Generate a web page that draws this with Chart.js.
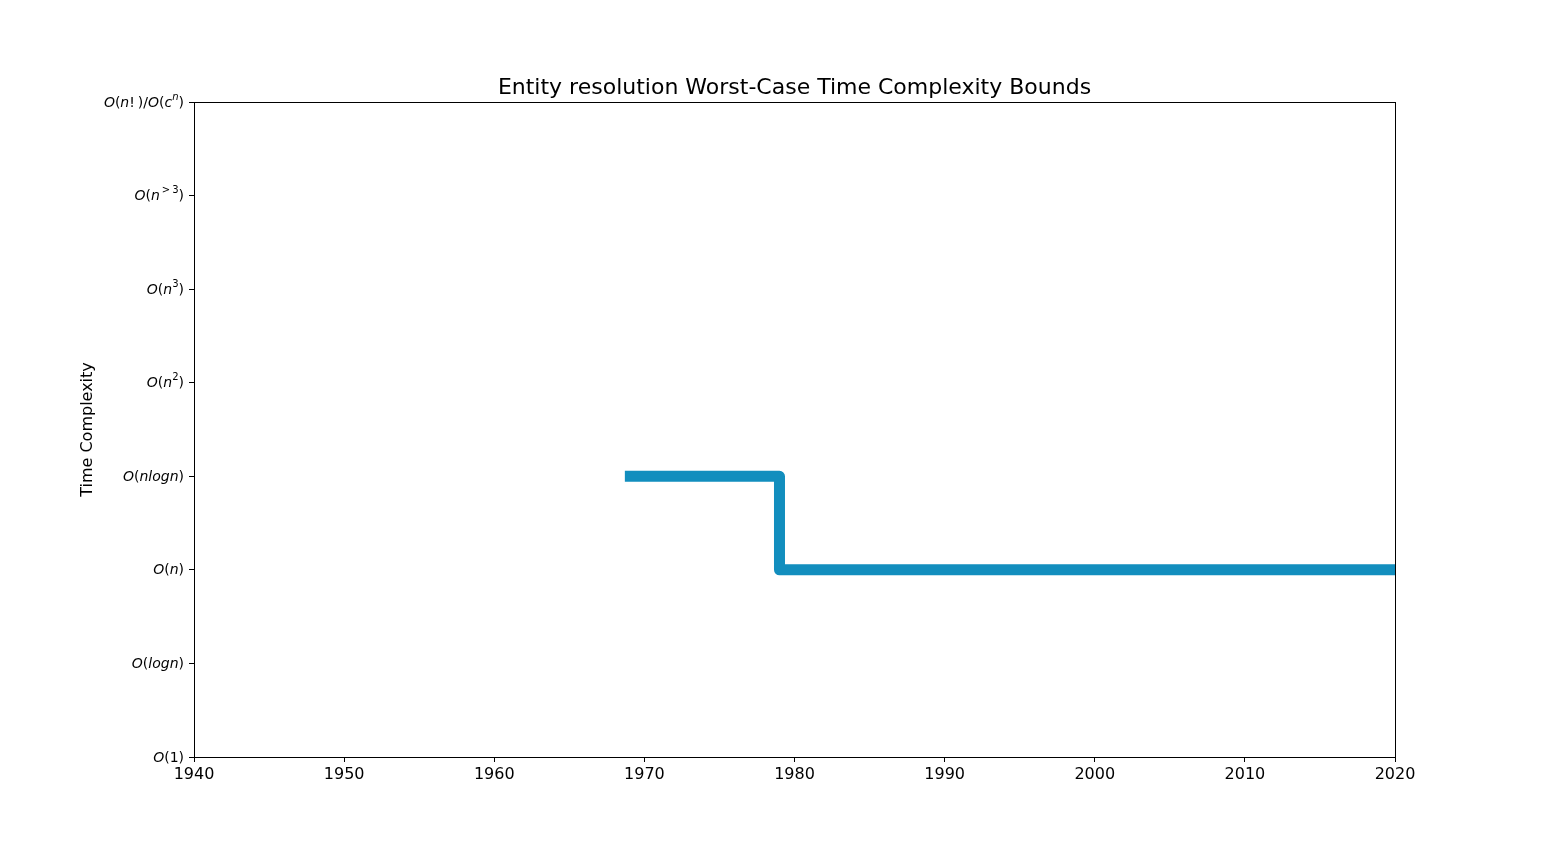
<!DOCTYPE html>
<html>
<head>
<meta charset="utf-8">
<script src="https://cdn.jsdelivr.net/npm/chart.js@4/dist/chart.umd.min.js"></script>
<style>
  body { margin: 0; background: #fff; }
  #chart { display: block; }
</style>
</head>
<body>
<canvas id="chart" width="1550" height="850"></canvas>
<script>
// data
const years = [1968.7, 1979, 2020];
const complexity = [3, 2, 2];
const complexityLabels = ['O(1)', 'O(logn)', 'O(n)', 'O(nlogn)', 'O(n^2)', 'O(n^3)', 'O(n^{>3})', 'O(n!)/O(c^n)'];
const xMin = 1940, xMax = 2020, xStep = 10;

const chartTitle = 'Entity resolution Worst-Case Time Complexity Bounds';
const yTitle = 'Time Complexity';
const FONT = '"DejaVu Sans", sans-serif';

// split "O(n^{>3})" into pieces: letters italic, superscripts smaller and raised
function parseLabel(s) {
    const parts = [];
    let i = 0;
    while (i < s.length) {
        let sup = false, chunk;
        if (s[i] === '^') {
            sup = true;
            i++;
            if (s[i] === '{') {
                const j = s.indexOf('}', i);
                chunk = s.slice(i + 1, j);
                i = j + 1;
            } else {
                chunk = s[i];
                i++;
            }
        } else {
            chunk = s[i];
            i++;
        }
        for (const ch of chunk) {
            // mathtext puts a little room around relations and after '!'
            let pre = 0, post = 0;
            if (ch === '>') { pre = 2; post = 2; }
            if (ch === '!') { post = 3; }
            parts.push({ ch: ch, sup: sup, it: /[a-zA-Z]/.test(ch), pre: pre, post: post });
        }
    }
    return parts;
}

function partFont(p) {
    const size = p.sup ? 10 : 14;
    return (p.it ? 'italic ' : '') + size + 'px ' + FONT;
}

const frameAndLabels = {
    id: 'frameAndLabels',
    afterDraw(chart) {
        const ctx = chart.ctx;
        const a = chart.chartArea;
        const yScale = chart.scales.y;
        ctx.save();

        // top and right spines
        ctx.strokeStyle = '#000';
        ctx.lineWidth = 1;
        ctx.strokeRect(Math.round(a.left) + 0.5, Math.round(a.top) + 0.5,
            Math.round(a.right - a.left), Math.round(a.bottom - a.top));

        // y tick labels with mathtext-like styling
        ctx.fillStyle = '#000';
        ctx.textBaseline = 'middle';
        ctx.textAlign = 'left';
        complexityLabels.forEach((lab, i) => {
            const parts = parseLabel(lab);
            let w = 0;
            parts.forEach(p => { ctx.font = partFont(p); w += p.pre + ctx.measureText(p.ch).width + p.post; });
            let x = a.left - 10 - w;
            const y = yScale.getPixelForValue(i) + 1;
            parts.forEach(p => {
                ctx.font = partFont(p);
                x += p.pre;
                ctx.fillText(p.ch, x, p.sup ? y - 6 : y);
                x += ctx.measureText(p.ch).width + p.post;
            });
        });

        // title
        ctx.font = '22px ' + FONT;
        ctx.textAlign = 'center';
        ctx.textBaseline = 'alphabetic';
        ctx.fillText(chartTitle, (a.left + a.right) / 2, a.top - 8);

        // y axis title
        ctx.font = '16px ' + FONT;
        ctx.translate(88, (a.top + a.bottom) / 2);
        ctx.rotate(-Math.PI / 2);
        ctx.textBaseline = 'middle';
        ctx.fillText(yTitle, 0, 0);
        ctx.restore();
    }
};

const ctx = document.getElementById('chart').getContext('2d');
const chart = new Chart(ctx, {
    type: 'line',
    data: {
        datasets: [{
            data: years.map((yr, i) => ({ x: yr, y: complexity[i] })),
            borderColor: '#128ebe',
            borderWidth: 11,
            borderJoinStyle: 'round',
            borderCapStyle: 'butt',
            stepped: true,
            pointRadius: 0,
            fill: false
        }]
    },
    options: {
        responsive: false,
        animation: false,
        layout: { padding: { top: 102, right: 155, bottom: 0, left: 0 } },
        plugins: {
            legend: { display: false },
            tooltip: { enabled: false },
            title: { display: false }
        },
        scales: {
            x: {
                type: 'linear',
                min: xMin,
                max: xMax,
                ticks: {
                    stepSize: xStep,
                    color: '#000',
                    font: { family: FONT, size: 16 },
                    padding: 3,
                    maxRotation: 0,
                    callback: v => String(v)
                },
                grid: { drawOnChartArea: false, drawTicks: true, tickLength: 5, color: '#000' },
                border: { color: '#000', width: 1 },
                afterFit: s => { s.height = 93; }
            },
            y: {
                type: 'linear',
                min: 0,
                max: complexityLabels.length - 1,
                ticks: {
                    stepSize: 1,
                    callback: () => ''
                },
                grid: { drawOnChartArea: false, drawTicks: true, tickLength: 5, color: '#000' },
                border: { color: '#000', width: 1 },
                afterFit: s => { s.width = 194; }
            }
        }
    },
    plugins: [frameAndLabels]
});
</script>
</body>
</html>
